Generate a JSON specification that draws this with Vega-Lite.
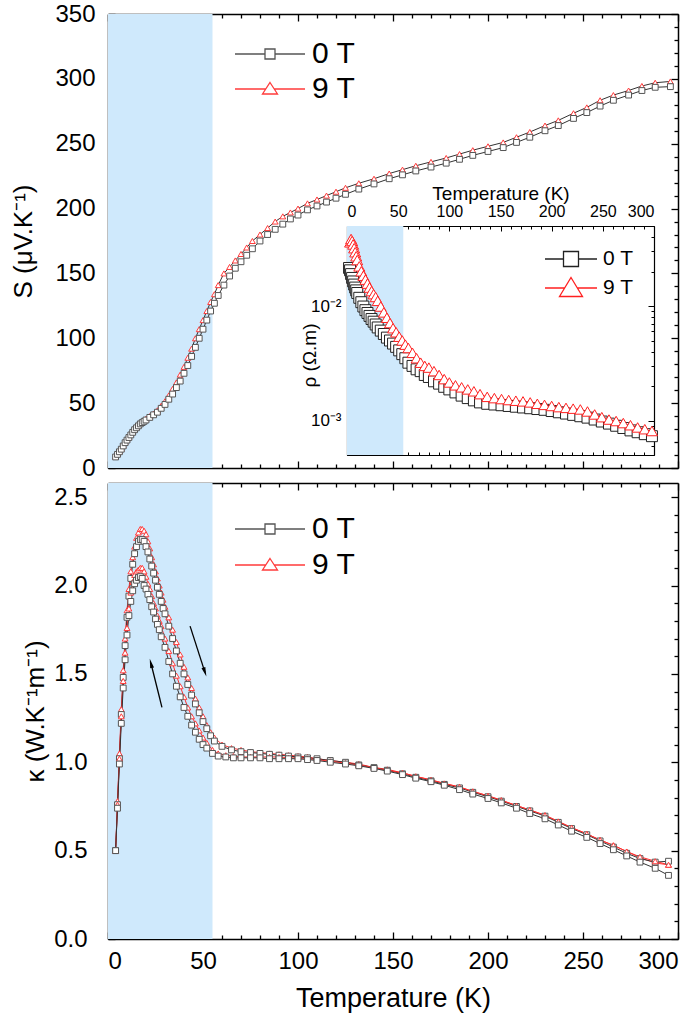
{
"$schema": "https://vega.github.io/schema/vega-lite/v6.json",
"background": "white",
"padding": {"left": 10, "top": 2, "right": 2, "bottom": 2},
"spacing": 2,
"config": {
 "font": "Liberation Sans",
 "view": {"stroke": null},
 "axis": {"grid": false, "domainColor": "black", "tickColor": "black", "labelColor": "black", "titleColor": "black", "labelFont": "Liberation Sans", "titleFont": "Liberation Sans", "titleFontWeight": "normal", "domainWidth": 1.5, "tickWidth": 1.3, "labelOverlap": false, "zindex": 1},
 "legend": {"labelFont": "Liberation Sans", "labelColor": "black"}
},
"resolve": {"scale": {"stroke": "independent", "shape": "independent", "color": "independent"}},
"datasets": {
 "shade": [{"t0": 0, "t1": 55}],
 "ishade": [{"t0": 0, "t1": 55, "r0": 0.0005, "r1": 0.05}],
 "arrows": [{"id": "r", "T0": 43.2, "k0": 1.77, "T1": 51, "k1": 1.51}, {"id": "l", "T0": 28.4, "k0": 1.31, "T1": 22.6, "k1": 1.56}],
 "S": [
{"T":4,"S":9,"B":"9 T"},{"T":5,"S":11,"B":"9 T"},{"T":6,"S":13,"B":"9 T"},{"T":7,"S":15,"B":"9 T"},{"T":8,"S":17.5,"B":"9 T"},{"T":9,"S":20,"B":"9 T"},{"T":10,"S":22,"B":"9 T"},{"T":11,"S":24,"B":"9 T"},{"T":12,"S":26.5,"B":"9 T"},{"T":13,"S":28.5,"B":"9 T"},{"T":14,"S":30.5,"B":"9 T"},{"T":15,"S":32,"B":"9 T"},{"T":16,"S":33.5,"B":"9 T"},{"T":17,"S":35,"B":"9 T"},{"T":18,"S":36,"B":"9 T"},{"T":19,"S":37,"B":"9 T"},{"T":20,"S":38,"B":"9 T"},{"T":22,"S":40,"B":"9 T"},{"T":24,"S":42,"B":"9 T"},{"T":26,"S":44.5,"B":"9 T"},{"T":28,"S":48,"B":"9 T"},{"T":30,"S":51.5,"B":"9 T"},{"T":32,"S":56,"B":"9 T"},{"T":34,"S":61,"B":"9 T"},{"T":36,"S":66,"B":"9 T"},{"T":38,"S":72,"B":"9 T"},{"T":40,"S":78,"B":"9 T"},{"T":42,"S":85,"B":"9 T"},{"T":44,"S":92,"B":"9 T"},{"T":46,"S":100,"B":"9 T"},{"T":48,"S":107,"B":"9 T"},{"T":50,"S":114,"B":"9 T"},{"T":52,"S":121,"B":"9 T"},{"T":54,"S":128,"B":"9 T"},{"T":56,"S":134,"B":"9 T"},{"T":58,"S":141,"B":"9 T"},{"T":61,"S":150,"B":"9 T"},{"T":64,"S":155,"B":"9 T"},{"T":67,"S":160,"B":"9 T"},{"T":70,"S":165,"B":"9 T"},{"T":73,"S":170,"B":"9 T"},{"T":76,"S":175,"B":"9 T"},{"T":80,"S":180,"B":"9 T"},{"T":84,"S":185,"B":"9 T"},{"T":88,"S":190,"B":"9 T"},{"T":92,"S":194,"B":"9 T"},{"T":96,"S":197,"B":"9 T"},{"T":100,"S":200,"B":"9 T"},{"T":105,"S":204,"B":"9 T"},{"T":110,"S":207,"B":"9 T"},{"T":115,"S":210,"B":"9 T"},{"T":120,"S":213,"B":"9 T"},{"T":125,"S":216,"B":"9 T"},{"T":132,"S":219.5,"B":"9 T"},{"T":140,"S":223,"B":"9 T"},{"T":148,"S":227,"B":"9 T"},{"T":155,"S":230,"B":"9 T"},{"T":162,"S":233,"B":"9 T"},{"T":170,"S":236,"B":"9 T"},{"T":178,"S":239,"B":"9 T"},{"T":185,"S":242,"B":"9 T"},{"T":192,"S":245,"B":"9 T"},{"T":200,"S":248,"B":"9 T"},{"T":208,"S":251,"B":"9 T"},{"T":215,"S":255,"B":"9 T"},{"T":222,"S":259,"B":"9 T"},{"T":230,"S":264,"B":"9 T"},{"T":237,"S":268,"B":"9 T"},{"T":245,"S":273.5,"B":"9 T"},{"T":252,"S":278,"B":"9 T"},{"T":259,"S":283.5,"B":"9 T"},{"T":266,"S":287.5,"B":"9 T"},{"T":274,"S":291,"B":"9 T"},{"T":281,"S":294.5,"B":"9 T"},{"T":288,"S":297,"B":"9 T"},{"T":296,"S":298,"B":"9 T"},
{"T":4,"S":8.5,"B":"0 T"},{"T":5,"S":10.5,"B":"0 T"},{"T":6,"S":12.5,"B":"0 T"},{"T":7,"S":14.5,"B":"0 T"},{"T":8,"S":17,"B":"0 T"},{"T":9,"S":19.5,"B":"0 T"},{"T":10,"S":21.5,"B":"0 T"},{"T":11,"S":23.5,"B":"0 T"},{"T":12,"S":25.5,"B":"0 T"},{"T":13,"S":27.5,"B":"0 T"},{"T":14,"S":29.5,"B":"0 T"},{"T":15,"S":31,"B":"0 T"},{"T":16,"S":32.5,"B":"0 T"},{"T":17,"S":34,"B":"0 T"},{"T":18,"S":35,"B":"0 T"},{"T":19,"S":36,"B":"0 T"},{"T":20,"S":37,"B":"0 T"},{"T":22,"S":39,"B":"0 T"},{"T":24,"S":41,"B":"0 T"},{"T":26,"S":43,"B":"0 T"},{"T":28,"S":46,"B":"0 T"},{"T":30,"S":49,"B":"0 T"},{"T":32,"S":53,"B":"0 T"},{"T":34,"S":57,"B":"0 T"},{"T":36,"S":62,"B":"0 T"},{"T":38,"S":67,"B":"0 T"},{"T":40,"S":73,"B":"0 T"},{"T":42,"S":79,"B":"0 T"},{"T":44,"S":86,"B":"0 T"},{"T":46,"S":93,"B":"0 T"},{"T":48,"S":100,"B":"0 T"},{"T":50,"S":107,"B":"0 T"},{"T":52,"S":114,"B":"0 T"},{"T":54,"S":121,"B":"0 T"},{"T":56,"S":127,"B":"0 T"},{"T":58,"S":133,"B":"0 T"},{"T":61,"S":141,"B":"0 T"},{"T":64,"S":148,"B":"0 T"},{"T":67,"S":154,"B":"0 T"},{"T":70,"S":159,"B":"0 T"},{"T":73,"S":164,"B":"0 T"},{"T":76,"S":169,"B":"0 T"},{"T":80,"S":175,"B":"0 T"},{"T":84,"S":180,"B":"0 T"},{"T":88,"S":184,"B":"0 T"},{"T":92,"S":188,"B":"0 T"},{"T":96,"S":192,"B":"0 T"},{"T":100,"S":195,"B":"0 T"},{"T":105,"S":199,"B":"0 T"},{"T":110,"S":202,"B":"0 T"},{"T":115,"S":205,"B":"0 T"},{"T":120,"S":208,"B":"0 T"},{"T":125,"S":211,"B":"0 T"},{"T":132,"S":215,"B":"0 T"},{"T":140,"S":219,"B":"0 T"},{"T":148,"S":223,"B":"0 T"},{"T":155,"S":226,"B":"0 T"},{"T":162,"S":229,"B":"0 T"},{"T":170,"S":232,"B":"0 T"},{"T":178,"S":235,"B":"0 T"},{"T":185,"S":238,"B":"0 T"},{"T":192,"S":241,"B":"0 T"},{"T":200,"S":244,"B":"0 T"},{"T":208,"S":247,"B":"0 T"},{"T":215,"S":251,"B":"0 T"},{"T":222,"S":255,"B":"0 T"},{"T":230,"S":260,"B":"0 T"},{"T":237,"S":264,"B":"0 T"},{"T":245,"S":269.5,"B":"0 T"},{"T":252,"S":274,"B":"0 T"},{"T":259,"S":279,"B":"0 T"},{"T":266,"S":283.5,"B":"0 T"},{"T":274,"S":287.5,"B":"0 T"},{"T":281,"S":291,"B":"0 T"},{"T":288,"S":293.5,"B":"0 T"},{"T":296,"S":294,"B":"0 T"}
 ],
 "rho": [
{"T":2,"r":0.0215,"B":"0 T"},{"T":3,"r":0.0205,"B":"0 T"},{"T":4,"r":0.019,"B":"0 T"},{"T":5,"r":0.0176,"B":"0 T"},{"T":6,"r":0.0164,"B":"0 T"},{"T":7,"r":0.0154,"B":"0 T"},{"T":8,"r":0.0145,"B":"0 T"},{"T":9,"r":0.0137,"B":"0 T"},{"T":10,"r":0.013,"B":"0 T"},{"T":12,"r":0.0118,"B":"0 T"},{"T":14,"r":0.0108,"B":"0 T"},{"T":16,"r":0.0099,"B":"0 T"},{"T":18,"r":0.0092,"B":"0 T"},{"T":20,"r":0.0087,"B":"0 T"},{"T":22,"r":0.0082,"B":"0 T"},{"T":24,"r":0.0077,"B":"0 T"},{"T":26,"r":0.0073,"B":"0 T"},{"T":28,"r":0.0069,"B":"0 T"},{"T":30,"r":0.0065,"B":"0 T"},{"T":33,"r":0.0061,"B":"0 T"},{"T":36,"r":0.0057,"B":"0 T"},{"T":39,"r":0.0053,"B":"0 T"},{"T":42,"r":0.005,"B":"0 T"},{"T":45,"r":0.0047,"B":"0 T"},{"T":48,"r":0.0044,"B":"0 T"},{"T":51,"r":0.0041,"B":"0 T"},{"T":54,"r":0.0038,"B":"0 T"},{"T":57,"r":0.0035,"B":"0 T"},{"T":60,"r":0.0032,"B":"0 T"},{"T":64,"r":0.003,"B":"0 T"},{"T":68,"r":0.0028,"B":"0 T"},{"T":72,"r":0.0027,"B":"0 T"},{"T":76,"r":0.0025,"B":"0 T"},{"T":80,"r":0.0024,"B":"0 T"},{"T":85,"r":0.0022,"B":"0 T"},{"T":90,"r":0.0021,"B":"0 T"},{"T":95,"r":0.00197,"B":"0 T"},{"T":100,"r":0.00187,"B":"0 T"},{"T":106,"r":0.00176,"B":"0 T"},{"T":112,"r":0.00165,"B":"0 T"},{"T":118,"r":0.00157,"B":"0 T"},{"T":124,"r":0.0015,"B":"0 T"},{"T":130,"r":0.00144,"B":"0 T"},{"T":137,"r":0.0014,"B":"0 T"},{"T":144,"r":0.00138,"B":"0 T"},{"T":151,"r":0.00136,"B":"0 T"},{"T":158,"r":0.00134,"B":"0 T"},{"T":165,"r":0.00132,"B":"0 T"},{"T":172,"r":0.0013,"B":"0 T"},{"T":179,"r":0.00128,"B":"0 T"},{"T":186,"r":0.00126,"B":"0 T"},{"T":193,"r":0.00124,"B":"0 T"},{"T":200,"r":0.00121,"B":"0 T"},{"T":207,"r":0.00118,"B":"0 T"},{"T":214,"r":0.00115,"B":"0 T"},{"T":221,"r":0.00112,"B":"0 T"},{"T":228,"r":0.00109,"B":"0 T"},{"T":235,"r":0.00106,"B":"0 T"},{"T":242,"r":0.00102,"B":"0 T"},{"T":249,"r":0.00098,"B":"0 T"},{"T":256,"r":0.00094,"B":"0 T"},{"T":263,"r":0.0009,"B":"0 T"},{"T":270,"r":0.00086,"B":"0 T"},{"T":277,"r":0.00082,"B":"0 T"},{"T":284,"r":0.00079,"B":"0 T"},{"T":291,"r":0.00076,"B":"0 T"},{"T":298,"r":0.00073,"B":"0 T"},
{"T":3,"r":0.036,"B":"9 T"},{"T":4,"r":0.0385,"B":"9 T"},{"T":5,"r":0.037,"B":"9 T"},{"T":6,"r":0.0345,"B":"9 T"},{"T":7,"r":0.032,"B":"9 T"},{"T":8,"r":0.0295,"B":"9 T"},{"T":9,"r":0.0272,"B":"9 T"},{"T":10,"r":0.0252,"B":"9 T"},{"T":12,"r":0.0222,"B":"9 T"},{"T":14,"r":0.0201,"B":"9 T"},{"T":16,"r":0.0184,"B":"9 T"},{"T":18,"r":0.017,"B":"9 T"},{"T":20,"r":0.0157,"B":"9 T"},{"T":22,"r":0.0145,"B":"9 T"},{"T":24,"r":0.0135,"B":"9 T"},{"T":26,"r":0.0127,"B":"9 T"},{"T":28,"r":0.012,"B":"9 T"},{"T":30,"r":0.0111,"B":"9 T"},{"T":33,"r":0.0099,"B":"9 T"},{"T":36,"r":0.0088,"B":"9 T"},{"T":39,"r":0.0079,"B":"9 T"},{"T":42,"r":0.0071,"B":"9 T"},{"T":45,"r":0.0064,"B":"9 T"},{"T":48,"r":0.0059,"B":"9 T"},{"T":51,"r":0.0054,"B":"9 T"},{"T":54,"r":0.005,"B":"9 T"},{"T":57,"r":0.0046,"B":"9 T"},{"T":60,"r":0.0043,"B":"9 T"},{"T":64,"r":0.0039,"B":"9 T"},{"T":68,"r":0.0035,"B":"9 T"},{"T":72,"r":0.0032,"B":"9 T"},{"T":76,"r":0.003,"B":"9 T"},{"T":80,"r":0.0029,"B":"9 T"},{"T":85,"r":0.0027,"B":"9 T"},{"T":90,"r":0.0025,"B":"9 T"},{"T":95,"r":0.0023,"B":"9 T"},{"T":100,"r":0.00215,"B":"9 T"},{"T":106,"r":0.00203,"B":"9 T"},{"T":112,"r":0.00195,"B":"9 T"},{"T":118,"r":0.00187,"B":"9 T"},{"T":124,"r":0.0018,"B":"9 T"},{"T":130,"r":0.0017,"B":"9 T"},{"T":137,"r":0.00161,"B":"9 T"},{"T":144,"r":0.00157,"B":"9 T"},{"T":151,"r":0.00154,"B":"9 T"},{"T":158,"r":0.00151,"B":"9 T"},{"T":165,"r":0.00149,"B":"9 T"},{"T":172,"r":0.00147,"B":"9 T"},{"T":179,"r":0.00144,"B":"9 T"},{"T":186,"r":0.0014,"B":"9 T"},{"T":193,"r":0.00137,"B":"9 T"},{"T":200,"r":0.00134,"B":"9 T"},{"T":207,"r":0.00131,"B":"9 T"},{"T":214,"r":0.00129,"B":"9 T"},{"T":221,"r":0.00127,"B":"9 T"},{"T":228,"r":0.00125,"B":"9 T"},{"T":235,"r":0.0012,"B":"9 T"},{"T":242,"r":0.00113,"B":"9 T"},{"T":249,"r":0.00107,"B":"9 T"},{"T":256,"r":0.00102,"B":"9 T"},{"T":263,"r":0.00099,"B":"9 T"},{"T":270,"r":0.00095,"B":"9 T"},{"T":277,"r":0.00091,"B":"9 T"},{"T":284,"r":0.00087,"B":"9 T"},{"T":291,"r":0.00084,"B":"9 T"},{"T":298,"r":0.00081,"B":"9 T"}
 ],
 "kap": [
{"T":4,"k":0.5,"B":"9 T","s":"w"},{"T":5,"k":0.78,"B":"9 T","s":"w"},{"T":6,"k":1.05,"B":"9 T","s":"w"},{"T":7,"k":1.3,"B":"9 T","s":"w"},{"T":8,"k":1.52,"B":"9 T","s":"w"},{"T":9,"k":1.7,"B":"9 T","s":"w"},{"T":10,"k":1.86,"B":"9 T","s":"w"},{"T":11,"k":1.98,"B":"9 T","s":"w"},{"T":12,"k":2.08,"B":"9 T","s":"w"},{"T":13,"k":2.16,"B":"9 T","s":"w"},{"T":14,"k":2.22,"B":"9 T","s":"w"},{"T":15,"k":2.27,"B":"9 T","s":"w"},{"T":16,"k":2.3,"B":"9 T","s":"w"},{"T":17,"k":2.32,"B":"9 T","s":"w"},{"T":18,"k":2.32,"B":"9 T","s":"w"},{"T":19,"k":2.31,"B":"9 T","s":"w"},{"T":20,"k":2.29,"B":"9 T","s":"w"},{"T":21,"k":2.25,"B":"9 T","s":"w"},{"T":22,"k":2.21,"B":"9 T","s":"w"},{"T":23,"k":2.16,"B":"9 T","s":"w"},{"T":24,"k":2.12,"B":"9 T","s":"w"},{"T":25,"k":2.08,"B":"9 T","s":"w"},{"T":26,"k":2.04,"B":"9 T","s":"w"},{"T":27,"k":2.0,"B":"9 T","s":"w"},{"T":28,"k":1.96,"B":"9 T","s":"w"},{"T":29,"k":1.92,"B":"9 T","s":"w"},{"T":30,"k":1.88,"B":"9 T","s":"w"},{"T":32,"k":1.82,"B":"9 T","s":"w"},{"T":34,"k":1.75,"B":"9 T","s":"w"},{"T":36,"k":1.68,"B":"9 T","s":"w"},{"T":38,"k":1.61,"B":"9 T","s":"w"},{"T":40,"k":1.54,"B":"9 T","s":"w"},{"T":42,"k":1.48,"B":"9 T","s":"w"},{"T":44,"k":1.42,"B":"9 T","s":"w"},{"T":46,"k":1.36,"B":"9 T","s":"w"},{"T":48,"k":1.31,"B":"9 T","s":"w"},{"T":50,"k":1.26,"B":"9 T","s":"w"},{"T":52,"k":1.21,"B":"9 T","s":"w"},{"T":54,"k":1.17,"B":"9 T","s":"w"},{"T":56,"k":1.14,"B":"9 T","s":"w"},{"T":60,"k":1.1,"B":"9 T","s":"w"},{"T":65,"k":1.08,"B":"9 T","s":"w"},{"T":70,"k":1.07,"B":"9 T","s":"w"},{"T":75,"k":1.06,"B":"9 T","s":"w"},{"T":80,"k":1.055,"B":"9 T","s":"w"},{"T":85,"k":1.05,"B":"9 T","s":"w"},{"T":90,"k":1.045,"B":"9 T","s":"w"},{"T":95,"k":1.04,"B":"9 T","s":"w"},{"T":100,"k":1.035,"B":"9 T","s":"w"},{"T":105,"k":1.03,"B":"9 T","s":"w"},{"T":110,"k":1.02,"B":"9 T","s":"w"},{"T":117,"k":1.01,"B":"9 T","s":"w"},{"T":125,"k":1.0,"B":"9 T","s":"w"},{"T":132,"k":0.99,"B":"9 T","s":"w"},{"T":140,"k":0.97,"B":"9 T","s":"w"},{"T":147,"k":0.96,"B":"9 T","s":"w"},{"T":155,"k":0.94,"B":"9 T","s":"w"},{"T":162,"k":0.92,"B":"9 T","s":"w"},{"T":170,"k":0.9,"B":"9 T","s":"w"},{"T":177,"k":0.88,"B":"9 T","s":"w"},{"T":185,"k":0.86,"B":"9 T","s":"w"},{"T":192,"k":0.835,"B":"9 T","s":"w"},{"T":200,"k":0.81,"B":"9 T","s":"w"},{"T":207,"k":0.785,"B":"9 T","s":"w"},{"T":215,"k":0.755,"B":"9 T","s":"w"},{"T":222,"k":0.73,"B":"9 T","s":"w"},{"T":230,"k":0.7,"B":"9 T","s":"w"},{"T":237,"k":0.665,"B":"9 T","s":"w"},{"T":244,"k":0.63,"B":"9 T","s":"w"},{"T":252,"k":0.595,"B":"9 T","s":"w"},{"T":259,"k":0.56,"B":"9 T","s":"w"},{"T":266,"k":0.53,"B":"9 T","s":"w"},{"T":273,"k":0.495,"B":"9 T","s":"w"},{"T":280,"k":0.46,"B":"9 T","s":"w"},{"T":288,"k":0.43,"B":"9 T","s":"w"},{"T":295,"k":0.42,"B":"9 T","s":"w"},
{"T":4,"k":0.5,"B":"0 T","s":"w"},{"T":5,"k":0.76,"B":"0 T","s":"w"},{"T":6,"k":1.02,"B":"0 T","s":"w"},{"T":7,"k":1.27,"B":"0 T","s":"w"},{"T":8,"k":1.48,"B":"0 T","s":"w"},{"T":9,"k":1.66,"B":"0 T","s":"w"},{"T":10,"k":1.82,"B":"0 T","s":"w"},{"T":11,"k":1.94,"B":"0 T","s":"w"},{"T":12,"k":2.04,"B":"0 T","s":"w"},{"T":13,"k":2.12,"B":"0 T","s":"w"},{"T":14,"k":2.18,"B":"0 T","s":"w"},{"T":15,"k":2.22,"B":"0 T","s":"w"},{"T":16,"k":2.25,"B":"0 T","s":"w"},{"T":17,"k":2.26,"B":"0 T","s":"w"},{"T":18,"k":2.26,"B":"0 T","s":"w"},{"T":19,"k":2.25,"B":"0 T","s":"w"},{"T":20,"k":2.22,"B":"0 T","s":"w"},{"T":21,"k":2.19,"B":"0 T","s":"w"},{"T":22,"k":2.15,"B":"0 T","s":"w"},{"T":23,"k":2.11,"B":"0 T","s":"w"},{"T":24,"k":2.07,"B":"0 T","s":"w"},{"T":25,"k":2.03,"B":"0 T","s":"w"},{"T":26,"k":1.99,"B":"0 T","s":"w"},{"T":27,"k":1.95,"B":"0 T","s":"w"},{"T":28,"k":1.91,"B":"0 T","s":"w"},{"T":29,"k":1.87,"B":"0 T","s":"w"},{"T":30,"k":1.84,"B":"0 T","s":"w"},{"T":32,"k":1.77,"B":"0 T","s":"w"},{"T":34,"k":1.7,"B":"0 T","s":"w"},{"T":36,"k":1.63,"B":"0 T","s":"w"},{"T":38,"k":1.56,"B":"0 T","s":"w"},{"T":40,"k":1.5,"B":"0 T","s":"w"},{"T":42,"k":1.44,"B":"0 T","s":"w"},{"T":44,"k":1.38,"B":"0 T","s":"w"},{"T":46,"k":1.33,"B":"0 T","s":"w"},{"T":48,"k":1.28,"B":"0 T","s":"w"},{"T":50,"k":1.23,"B":"0 T","s":"w"},{"T":52,"k":1.19,"B":"0 T","s":"w"},{"T":54,"k":1.15,"B":"0 T","s":"w"},{"T":56,"k":1.12,"B":"0 T","s":"w"},{"T":60,"k":1.09,"B":"0 T","s":"w"},{"T":65,"k":1.07,"B":"0 T","s":"w"},{"T":70,"k":1.06,"B":"0 T","s":"w"},{"T":75,"k":1.055,"B":"0 T","s":"w"},{"T":80,"k":1.05,"B":"0 T","s":"w"},{"T":85,"k":1.045,"B":"0 T","s":"w"},{"T":90,"k":1.04,"B":"0 T","s":"w"},{"T":95,"k":1.035,"B":"0 T","s":"w"},{"T":100,"k":1.03,"B":"0 T","s":"w"},{"T":105,"k":1.025,"B":"0 T","s":"w"},{"T":110,"k":1.02,"B":"0 T","s":"w"},{"T":117,"k":1.01,"B":"0 T","s":"w"},{"T":125,"k":1.0,"B":"0 T","s":"w"},{"T":132,"k":0.985,"B":"0 T","s":"w"},{"T":140,"k":0.97,"B":"0 T","s":"w"},{"T":147,"k":0.955,"B":"0 T","s":"w"},{"T":155,"k":0.935,"B":"0 T","s":"w"},{"T":162,"k":0.915,"B":"0 T","s":"w"},{"T":170,"k":0.895,"B":"0 T","s":"w"},{"T":177,"k":0.875,"B":"0 T","s":"w"},{"T":185,"k":0.855,"B":"0 T","s":"w"},{"T":192,"k":0.83,"B":"0 T","s":"w"},{"T":200,"k":0.805,"B":"0 T","s":"w"},{"T":207,"k":0.78,"B":"0 T","s":"w"},{"T":215,"k":0.75,"B":"0 T","s":"w"},{"T":222,"k":0.725,"B":"0 T","s":"w"},{"T":230,"k":0.695,"B":"0 T","s":"w"},{"T":237,"k":0.66,"B":"0 T","s":"w"},{"T":244,"k":0.625,"B":"0 T","s":"w"},{"T":252,"k":0.59,"B":"0 T","s":"w"},{"T":259,"k":0.555,"B":"0 T","s":"w"},{"T":266,"k":0.52,"B":"0 T","s":"w"},{"T":273,"k":0.485,"B":"0 T","s":"w"},{"T":280,"k":0.455,"B":"0 T","s":"w"},{"T":288,"k":0.435,"B":"0 T","s":"w"},{"T":295,"k":0.44,"B":"0 T","s":"w"},
{"T":4,"k":0.5,"B":"9 T","s":"c"},{"T":5,"k":0.76,"B":"9 T","s":"c"},{"T":6,"k":1.02,"B":"9 T","s":"c"},{"T":7,"k":1.26,"B":"9 T","s":"c"},{"T":8,"k":1.46,"B":"9 T","s":"c"},{"T":9,"k":1.62,"B":"9 T","s":"c"},{"T":10,"k":1.76,"B":"9 T","s":"c"},{"T":11,"k":1.87,"B":"9 T","s":"c"},{"T":12,"k":1.96,"B":"9 T","s":"c"},{"T":13,"k":2.02,"B":"9 T","s":"c"},{"T":14,"k":2.06,"B":"9 T","s":"c"},{"T":15,"k":2.08,"B":"9 T","s":"c"},{"T":16,"k":2.09,"B":"9 T","s":"c"},{"T":17,"k":2.1,"B":"9 T","s":"c"},{"T":18,"k":2.1,"B":"9 T","s":"c"},{"T":19,"k":2.08,"B":"9 T","s":"c"},{"T":20,"k":2.05,"B":"9 T","s":"c"},{"T":21,"k":2.01,"B":"9 T","s":"c"},{"T":22,"k":1.98,"B":"9 T","s":"c"},{"T":23,"k":1.94,"B":"9 T","s":"c"},{"T":24,"k":1.9,"B":"9 T","s":"c"},{"T":25,"k":1.87,"B":"9 T","s":"c"},{"T":26,"k":1.83,"B":"9 T","s":"c"},{"T":27,"k":1.8,"B":"9 T","s":"c"},{"T":28,"k":1.77,"B":"9 T","s":"c"},{"T":30,"k":1.7,"B":"9 T","s":"c"},{"T":32,"k":1.63,"B":"9 T","s":"c"},{"T":34,"k":1.56,"B":"9 T","s":"c"},{"T":36,"k":1.49,"B":"9 T","s":"c"},{"T":38,"k":1.43,"B":"9 T","s":"c"},{"T":40,"k":1.37,"B":"9 T","s":"c"},{"T":42,"k":1.31,"B":"9 T","s":"c"},{"T":44,"k":1.26,"B":"9 T","s":"c"},{"T":46,"k":1.22,"B":"9 T","s":"c"},{"T":48,"k":1.18,"B":"9 T","s":"c"},{"T":50,"k":1.14,"B":"9 T","s":"c"},{"T":52,"k":1.11,"B":"9 T","s":"c"},{"T":55,"k":1.07,"B":"9 T","s":"c"},{"T":58,"k":1.05,"B":"9 T","s":"c"},{"T":62,"k":1.04,"B":"9 T","s":"c"},{"T":66,"k":1.035,"B":"9 T","s":"c"},{"T":70,"k":1.03,"B":"9 T","s":"c"},{"T":75,"k":1.03,"B":"9 T","s":"c"},{"T":80,"k":1.03,"B":"9 T","s":"c"},{"T":85,"k":1.03,"B":"9 T","s":"c"},{"T":90,"k":1.03,"B":"9 T","s":"c"},{"T":95,"k":1.025,"B":"9 T","s":"c"},{"T":100,"k":1.025,"B":"9 T","s":"c"},{"T":105,"k":1.02,"B":"9 T","s":"c"},{"T":110,"k":1.015,"B":"9 T","s":"c"},{"T":117,"k":1.005,"B":"9 T","s":"c"},{"T":125,"k":0.995,"B":"9 T","s":"c"},{"T":132,"k":0.985,"B":"9 T","s":"c"},{"T":140,"k":0.97,"B":"9 T","s":"c"},{"T":147,"k":0.955,"B":"9 T","s":"c"},{"T":155,"k":0.94,"B":"9 T","s":"c"},{"T":162,"k":0.92,"B":"9 T","s":"c"},{"T":170,"k":0.9,"B":"9 T","s":"c"},{"T":177,"k":0.88,"B":"9 T","s":"c"},{"T":185,"k":0.86,"B":"9 T","s":"c"},{"T":192,"k":0.835,"B":"9 T","s":"c"},{"T":200,"k":0.81,"B":"9 T","s":"c"},{"T":207,"k":0.785,"B":"9 T","s":"c"},{"T":215,"k":0.755,"B":"9 T","s":"c"},{"T":222,"k":0.73,"B":"9 T","s":"c"},{"T":230,"k":0.7,"B":"9 T","s":"c"},{"T":237,"k":0.665,"B":"9 T","s":"c"},{"T":244,"k":0.63,"B":"9 T","s":"c"},{"T":252,"k":0.595,"B":"9 T","s":"c"},{"T":259,"k":0.56,"B":"9 T","s":"c"},{"T":266,"k":0.53,"B":"9 T","s":"c"},{"T":273,"k":0.495,"B":"9 T","s":"c"},{"T":280,"k":0.465,"B":"9 T","s":"c"},{"T":288,"k":0.44,"B":"9 T","s":"c"},{"T":295,"k":0.42,"B":"9 T","s":"c"},
{"T":4,"k":0.5,"B":"0 T","s":"c"},{"T":5,"k":0.74,"B":"0 T","s":"c"},{"T":6,"k":0.99,"B":"0 T","s":"c"},{"T":7,"k":1.22,"B":"0 T","s":"c"},{"T":8,"k":1.42,"B":"0 T","s":"c"},{"T":9,"k":1.58,"B":"0 T","s":"c"},{"T":10,"k":1.72,"B":"0 T","s":"c"},{"T":11,"k":1.83,"B":"0 T","s":"c"},{"T":12,"k":1.91,"B":"0 T","s":"c"},{"T":13,"k":1.97,"B":"0 T","s":"c"},{"T":14,"k":2.01,"B":"0 T","s":"c"},{"T":15,"k":2.03,"B":"0 T","s":"c"},{"T":16,"k":2.045,"B":"0 T","s":"c"},{"T":17,"k":2.05,"B":"0 T","s":"c"},{"T":18,"k":2.04,"B":"0 T","s":"c"},{"T":19,"k":2.0,"B":"0 T","s":"c"},{"T":20,"k":1.98,"B":"0 T","s":"c"},{"T":21,"k":1.95,"B":"0 T","s":"c"},{"T":22,"k":1.92,"B":"0 T","s":"c"},{"T":23,"k":1.88,"B":"0 T","s":"c"},{"T":24,"k":1.85,"B":"0 T","s":"c"},{"T":25,"k":1.81,"B":"0 T","s":"c"},{"T":26,"k":1.78,"B":"0 T","s":"c"},{"T":27,"k":1.75,"B":"0 T","s":"c"},{"T":28,"k":1.71,"B":"0 T","s":"c"},{"T":30,"k":1.65,"B":"0 T","s":"c"},{"T":32,"k":1.57,"B":"0 T","s":"c"},{"T":34,"k":1.5,"B":"0 T","s":"c"},{"T":36,"k":1.43,"B":"0 T","s":"c"},{"T":38,"k":1.37,"B":"0 T","s":"c"},{"T":40,"k":1.31,"B":"0 T","s":"c"},{"T":42,"k":1.26,"B":"0 T","s":"c"},{"T":44,"k":1.21,"B":"0 T","s":"c"},{"T":46,"k":1.17,"B":"0 T","s":"c"},{"T":48,"k":1.13,"B":"0 T","s":"c"},{"T":50,"k":1.1,"B":"0 T","s":"c"},{"T":52,"k":1.08,"B":"0 T","s":"c"},{"T":55,"k":1.05,"B":"0 T","s":"c"},{"T":58,"k":1.035,"B":"0 T","s":"c"},{"T":62,"k":1.03,"B":"0 T","s":"c"},{"T":66,"k":1.025,"B":"0 T","s":"c"},{"T":70,"k":1.025,"B":"0 T","s":"c"},{"T":75,"k":1.025,"B":"0 T","s":"c"},{"T":80,"k":1.025,"B":"0 T","s":"c"},{"T":85,"k":1.02,"B":"0 T","s":"c"},{"T":90,"k":1.02,"B":"0 T","s":"c"},{"T":95,"k":1.02,"B":"0 T","s":"c"},{"T":100,"k":1.02,"B":"0 T","s":"c"},{"T":105,"k":1.015,"B":"0 T","s":"c"},{"T":110,"k":1.01,"B":"0 T","s":"c"},{"T":117,"k":1.0,"B":"0 T","s":"c"},{"T":125,"k":0.99,"B":"0 T","s":"c"},{"T":132,"k":0.98,"B":"0 T","s":"c"},{"T":140,"k":0.965,"B":"0 T","s":"c"},{"T":147,"k":0.95,"B":"0 T","s":"c"},{"T":155,"k":0.93,"B":"0 T","s":"c"},{"T":162,"k":0.91,"B":"0 T","s":"c"},{"T":170,"k":0.89,"B":"0 T","s":"c"},{"T":177,"k":0.87,"B":"0 T","s":"c"},{"T":185,"k":0.845,"B":"0 T","s":"c"},{"T":192,"k":0.82,"B":"0 T","s":"c"},{"T":200,"k":0.795,"B":"0 T","s":"c"},{"T":207,"k":0.77,"B":"0 T","s":"c"},{"T":215,"k":0.74,"B":"0 T","s":"c"},{"T":222,"k":0.71,"B":"0 T","s":"c"},{"T":230,"k":0.68,"B":"0 T","s":"c"},{"T":237,"k":0.645,"B":"0 T","s":"c"},{"T":244,"k":0.61,"B":"0 T","s":"c"},{"T":252,"k":0.575,"B":"0 T","s":"c"},{"T":259,"k":0.54,"B":"0 T","s":"c"},{"T":266,"k":0.505,"B":"0 T","s":"c"},{"T":273,"k":0.47,"B":"0 T","s":"c"},{"T":280,"k":0.435,"B":"0 T","s":"c"},{"T":288,"k":0.4,"B":"0 T","s":"c"},{"T":295,"k":0.36,"B":"0 T","s":"c"}
 ]
},
"vconcat": [
 {
  "width": 570, "height": 454,
  "layer": [
   {
    "layer": [
     {
      "data": {"name": "shade"},
      "mark": {"type": "rect", "color": "#cfe9fc"},
      "encoding": {
       "x": {"field": "t0", "type": "quantitative", "scale": {"domain": [0, 300], "nice": false, "zero": false},
        "axis": {"orient": "bottom", "values": [0,10,20,30,40,50,60,70,80,90,100,110,120,130,140,150,160,170,180,190,200,210,220,230,240,250,260,270,280,290,300], "labels": false, "title": null, "tickSize": {"condition": {"test": "datum.value % 50 === 0", "value": -7}, "value": -4}}},
       "x2": {"field": "t1"}
      }
     },
     {
      "data": {"name": "S"},
      "mark": {"type": "line", "color": "#333333", "strokeWidth": 1},
      "encoding": {
       "x": {"field": "T", "type": "quantitative", "scale": {"domain": [0, 300], "nice": false, "zero": false},
        "axis": {"orient": "top", "values": [0,10,20,30,40,50,60,70,80,90,100,110,120,130,140,150,160,170,180,190,200,210,220,230,240,250,260,270,280,290,300], "labels": false, "title": null, "tickSize": {"condition": {"test": "datum.value % 50 === 0", "value": -7}, "value": -4}}},
       "y": {"field": "S", "type": "quantitative", "scale": {"domain": [0, 350], "nice": false},
        "axis": {"orient": "left", "values": [0,10,20,30,40,50,60,70,80,90,100,110,120,130,140,150,160,170,180,190,200,210,220,230,240,250,260,270,280,290,300,310,320,330,340,350], "labelExpr": "datum.value % 50 === 0 ? datum.label : ''", "labelFontSize": 24, "labelPadding": 20, "tickSize": {"condition": {"test": "datum.value % 50 === 0", "value": -7}, "value": -4}, "title": "S (μV.K⁻¹)", "titleFontSize": 26, "titlePadding": 18}},
       "detail": {"field": "B"}
      }
     },
     {
      "data": {"name": "S"},
      "mark": {"type": "point", "filled": true, "fill": "white", "size": 34, "strokeWidth": 1, "opacity": 1},
      "encoding": {
       "x": {"field": "T", "type": "quantitative", "axis": null},
       "y": {"field": "S", "type": "quantitative",
        "axis": {"orient": "right", "values": [0,10,20,30,40,50,60,70,80,90,100,110,120,130,140,150,160,170,180,190,200,210,220,230,240,250,260,270,280,290,300,310,320,330,340,350], "labels": false, "title": null, "tickSize": {"condition": {"test": "datum.value % 50 === 0", "value": -7}, "value": -4}}},
       "stroke": {"field": "B", "type": "nominal", "scale": {"domain": ["0 T", "9 T"], "range": ["#555555", "#ff3b3b"]},
        "legend": {"orient": "none", "legendX": 147, "legendY": 25, "title": null, "padding": 0, "symbolSize": 400, "labelFontSize": 30, "labelOffset": 27, "rowPadding": 5, "symbolStrokeWidth": 1.3, "symbolFillColor": "white",
         "symbolType": {"expr": "datum.value === '0 T' ? 'M-3.5,0H-0.5M0.5,0H3.5M-0.5,-0.5H0.5V0.5H-0.5Z' : 'M-3.5,0H-0.42M0.42,0H3.5M0,-0.65L0.75,0.5H-0.75Z'"}}},
       "shape": {"condition": {"test": "datum.B === '0 T'", "value": "square"}, "value": "triangle-up"}
      }
     }
    ],
    "resolve": {"axis": {"x": "independent", "y": "independent"}}
   },
   {
    "layer": [
     {
      "data": {"name": "ishade"},
      "mark": {"type": "rect", "color": "#cfe9fc"},
      "encoding": {
       "x": {"field": "t0", "type": "quantitative", "scale": {"domain": [0, 300], "range": [239, 546], "nice": false, "zero": false},
        "axis": {"orient": "top", "offset": -212, "values": [0,10,20,30,40,50,60,70,80,90,100,110,120,130,140,150,160,170,180,190,200,210,220,230,240,250,260,270,280,290,300], "labelExpr": "datum.value % 50 === 0 ? datum.label : ''", "labelFontSize": 16, "labelPadding": 12, "tickSize": {"condition": {"test": "datum.value % 50 === 0", "value": -5}, "value": -3}, "domainWidth": 1.2, "tickWidth": 1, "title": "Temperature (K)", "titleFontSize": 19, "titlePadding": -2}},
       "x2": {"field": "t1"},
       "y": {"field": "r0", "type": "quantitative", "scale": {"type": "log", "domain": [0.0005, 0.05], "range": [441, 212], "nice": false},
        "axis": {"orient": "left", "offset": -239, "values": [0.0005,0.0006,0.0007,0.0008,0.0009,0.001,0.002,0.003,0.004,0.005,0.006,0.007,0.008,0.009,0.01,0.02,0.03,0.04,0.05], "labelExpr": "datum.value === 0.01 ? '10⁻²' : (datum.value === 0.001 ? '10⁻³' : '')", "labelFontSize": 17, "labelPadding": 12, "tickSize": {"condition": {"test": "datum.value === 0.01 || datum.value === 0.001", "value": -6}, "value": -3}, "domainWidth": 1.2, "tickWidth": 1, "title": "ρ (Ω.m)", "titleFontSize": 19, "titlePadding": -9, "titleY": 341}},
       "y2": {"field": "r1"}
      }
     },
     {
      "data": {"name": "rho"},
      "mark": {"type": "line", "strokeWidth": 1},
      "encoding": {
       "x": {"field": "T", "type": "quantitative", "scale": {"domain": [0, 300], "range": [239, 546], "nice": false, "zero": false},
        "axis": {"orient": "bottom", "offset": -13, "values": [0,10,20,30,40,50,60,70,80,90,100,110,120,130,140,150,160,170,180,190,200,210,220,230,240,250,260,270,280,290,300], "labels": false, "title": null, "tickSize": {"condition": {"test": "datum.value % 50 === 0", "value": -5}, "value": -3}, "domainWidth": 1.2, "tickWidth": 1}},
       "y": {"field": "r", "type": "quantitative", "scale": {"type": "log", "domain": [0.0005, 0.05], "range": [441, 212], "nice": false},
        "axis": {"orient": "right", "offset": -24, "values": [0.0005,0.0006,0.0007,0.0008,0.0009,0.001,0.002,0.003,0.004,0.005,0.006,0.007,0.008,0.009,0.01,0.02,0.03,0.04,0.05], "labels": false, "title": null, "tickSize": {"condition": {"test": "datum.value === 0.01 || datum.value === 0.001", "value": -6}, "value": -3}, "domainWidth": 1.2, "tickWidth": 1}},
       "color": {"field": "B", "type": "nominal", "scale": {"domain": ["9 T", "0 T"], "range": ["#ff6b6b", "#777777"]}, "legend": null}
      }
     },
     {
      "data": {"name": "rho"},
      "mark": {"type": "point", "filled": true, "fill": "white", "size": 120, "strokeWidth": 1, "opacity": 1},
      "encoding": {
       "x": {"field": "T", "type": "quantitative", "axis": null},
       "y": {"field": "r", "type": "quantitative", "axis": null},
       "stroke": {"field": "B", "type": "nominal", "scale": {"domain": ["0 T", "9 T"], "range": ["#222222", "#ff2020"]},
        "legend": {"orient": "none", "legendX": 452, "legendY": 234, "title": null, "padding": 0, "symbolSize": 400, "labelFontSize": 21, "labelOffset": 21, "rowPadding": 4, "symbolStrokeWidth": 1.3, "symbolFillColor": "white",
         "symbolType": {"expr": "datum.value === '0 T' ? 'M-2.6,0H-0.75M0.75,0H2.6M-0.75,-0.75H0.75V0.75H-0.75Z' : 'M-2.6,0H-0.64M0.64,0H2.6M0,-1.05L1.15,0.85H-1.15Z'"}}},
       "shape": {"condition": {"test": "datum.B === '0 T'", "value": "square"}, "value": "triangle-up"}
      }
     }
    ],
    "resolve": {"axis": {"x": "independent", "y": "independent"}}
   }
  ],
  "resolve": {"scale": {"x": "independent", "y": "independent", "stroke": "independent", "shape": "independent", "color": "independent"}}
 },
 {
  "width": 570, "height": 456,
  "layer": [
   {
    "data": {"name": "shade"},
    "mark": {"type": "rect", "color": "#cfe9fc"},
    "encoding": {
     "x": {"field": "t0", "type": "quantitative", "scale": {"domain": [0, 300], "nice": false, "zero": false},
      "axis": {"orient": "bottom", "values": [0,10,20,30,40,50,60,70,80,90,100,110,120,130,140,150,160,170,180,190,200,210,220,230,240,250,260,270,280,290,300], "labelExpr": "datum.value % 50 === 0 ? datum.label : ''", "labelFontSize": 24, "labelPadding": 17, "tickSize": {"condition": {"test": "datum.value % 50 === 0", "value": -7}, "value": -4}, "title": "Temperature (K)", "titleFontSize": 27, "titlePadding": 9}},
     "x2": {"field": "t1"}
    }
   },
   {
    "data": {"name": "kap"},
    "mark": {"type": "line", "strokeWidth": 1},
    "encoding": {
     "x": {"field": "T", "type": "quantitative", "scale": {"domain": [0, 300], "nice": false, "zero": false},
      "axis": {"orient": "top", "values": [0,10,20,30,40,50,60,70,80,90,100,110,120,130,140,150,160,170,180,190,200,210,220,230,240,250,260,270,280,290,300], "labels": false, "title": null, "tickSize": {"condition": {"test": "datum.value % 50 === 0", "value": -7}, "value": -4}}},
     "y": {"field": "k", "type": "quantitative", "scale": {"domain": [0, 2.58], "nice": false},
      "axis": {"orient": "left", "values": [0,0.1,0.2,0.3,0.4,0.5,0.6,0.7,0.8,0.9,1,1.1,1.2,1.3,1.4,1.5,1.6,1.7,1.8,1.9,2,2.1,2.2,2.3,2.4,2.5], "labelExpr": "round(datum.value*10) % 5 === 0 ? format(datum.value, '.1f') : ''", "labelFontSize": 24, "labelPadding": 28, "tickSize": {"condition": {"test": "round(datum.value*10) % 5 === 0", "value": -7}, "value": -4}, "title": "κ (W.K⁻¹m⁻¹)", "titleFontSize": 26, "titlePadding": 5}},
     "color": {"field": "B", "type": "nominal", "scale": {"domain": ["9 T", "0 T"], "range": ["#ff3030", "#333333"]}, "legend": null},
     "detail": {"field": "s"}
    }
   },
   {
    "data": {"name": "kap"},
    "mark": {"type": "point", "filled": true, "fill": "white", "size": 34, "strokeWidth": 1, "opacity": 1},
    "encoding": {
     "x": {"field": "T", "type": "quantitative", "axis": null},
     "y": {"field": "k", "type": "quantitative",
      "axis": {"orient": "right", "values": [0,0.1,0.2,0.3,0.4,0.5,0.6,0.7,0.8,0.9,1,1.1,1.2,1.3,1.4,1.5,1.6,1.7,1.8,1.9,2,2.1,2.2,2.3,2.4,2.5], "labels": false, "title": null, "tickSize": {"condition": {"test": "round(datum.value*10) % 5 === 0", "value": -7}, "value": -4}}},
     "stroke": {"field": "B", "type": "nominal", "scale": {"domain": ["0 T", "9 T"], "range": ["#555555", "#ff3b3b"]},
      "legend": {"orient": "none", "legendX": 147, "legendY": 31, "title": null, "padding": 0, "symbolSize": 400, "labelFontSize": 30, "labelOffset": 27, "rowPadding": 6, "symbolStrokeWidth": 1.3, "symbolFillColor": "white",
       "symbolType": {"expr": "datum.value === '0 T' ? 'M-3.5,0H-0.5M0.5,0H3.5M-0.5,-0.5H0.5V0.5H-0.5Z' : 'M-3.5,0H-0.42M0.42,0H3.5M0,-0.65L0.75,0.5H-0.75Z'"}}},
     "shape": {"condition": {"test": "datum.B === '0 T'", "value": "square"}, "value": "triangle-up"}
    }
   },
   {
    "data": {"name": "arrows"},
    "mark": {"type": "rule", "color": "black", "strokeWidth": 1.3},
    "encoding": {
     "x": {"field": "T0", "type": "quantitative", "axis": null},
     "y": {"field": "k0", "type": "quantitative", "axis": null},
     "x2": {"field": "T1"},
     "y2": {"field": "k1"}
    }
   },
   {
    "data": {"name": "arrows"},
    "transform": [{"filter": "datum.id === 'r'"}],
    "mark": {"type": "point", "shape": "M0,-1L0.42,1L-0.42,1Z", "filled": true, "color": "black", "opacity": 1, "size": 90, "angle": 161.6},
    "encoding": {
     "x": {"field": "T1", "type": "quantitative", "axis": null},
     "y": {"field": "k1", "type": "quantitative", "axis": null}
    }
   },
   {
    "data": {"name": "arrows"},
    "transform": [{"filter": "datum.id === 'l'"}],
    "mark": {"type": "point", "shape": "M0,-1L0.42,1L-0.42,1Z", "filled": true, "color": "black", "opacity": 1, "size": 90, "angle": 345.7},
    "encoding": {
     "x": {"field": "T1", "type": "quantitative", "axis": null},
     "y": {"field": "k1", "type": "quantitative", "axis": null}
    }
   }
  ],
  "resolve": {"axis": {"x": "independent", "y": "independent"}}
 }
]
}
